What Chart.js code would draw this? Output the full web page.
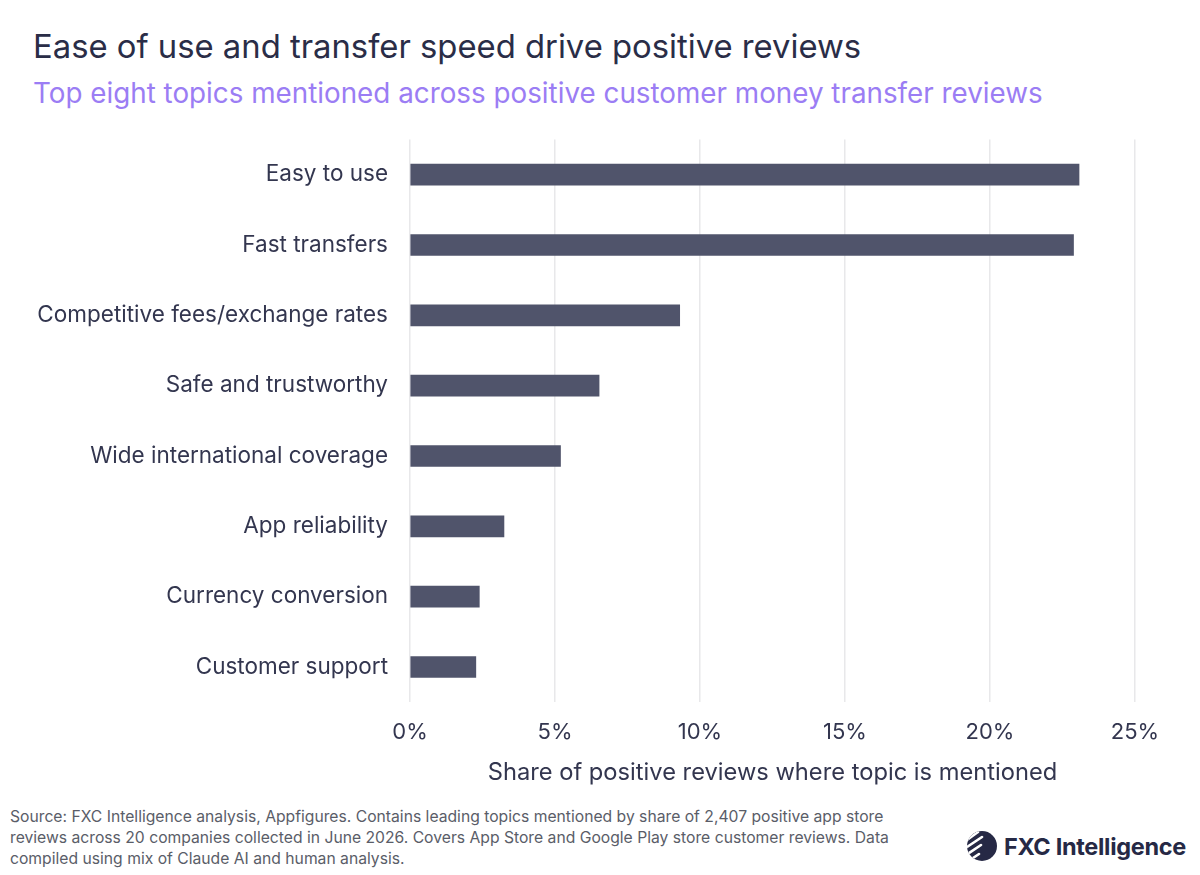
<!DOCTYPE html>
<html>
<head>
<meta charset="utf-8">
<script src="https://cdn.jsdelivr.net/npm/chart.js@4.4.1/dist/chart.umd.min.js"></script>
<style>
  html, body { margin: 0; padding: 0; background: #fff; }
  body { width: 1200px; height: 875px; position: relative; overflow: hidden; font-family: Inter, "Noto Sans", sans-serif; }
  #title { position: absolute; left: 33px; top: 26px; font-size: 32.8px; color: #2a2d47; white-space: nowrap; }
  #subtitle { position: absolute; left: 33px; top: 76px; font-size: 27.8px; color: #9b7df4; white-space: nowrap; }
  #wrap { position: absolute; left: 0; top: 112px; width: 1200px; height: 680px; }
  #footer { position: absolute; left: 10px; top: 806px; width: 890px; font-size: 15.7px; line-height: 21px; color: #5a5d68; }
  #logo { position: absolute; left: 966px; top: 830px; display: flex; align-items: center; }
  #logo span { font-size: 23.5px; font-weight: 700; color: #262945; margin-left: 6px; letter-spacing: -0.3px; }
</style>
</head>
<body>
<div id="title">Ease of use and transfer speed drive positive reviews</div>
<div id="subtitle">Top eight topics mentioned across positive customer money transfer reviews</div>
<div id="wrap"><canvas id="chart"></canvas></div>
<div id="footer">Source: FXC Intelligence analysis, Appfigures. Contains leading topics mentioned by share of 2,407 positive app store reviews across 20 companies collected in June 2026. Covers App Store and Google Play store customer reviews. Data compiled using mix of Claude AI and human analysis.</div>
<div id="logo">
  <svg width="32" height="32" viewBox="0 0 32 32">
    <defs><clipPath id="c"><circle cx="16" cy="16" r="15"/></clipPath></defs>
    <circle cx="16" cy="16" r="15" fill="#262945"/>
    <g clip-path="url(#c)" stroke="#fff" stroke-width="2.6" stroke-linecap="round">
      <line x1="-2" y1="12" x2="12" y2="2"/>
      <line x1="-2" y1="19" x2="16" y2="7"/>
      <line x1="0" y1="25" x2="15" y2="15"/>
      <line x1="4" y1="30" x2="13" y2="24"/>
    </g>
  </svg>
  <span>FXC Intelligence</span>
</div>
<script>
const topics = ['Easy to use', 'Fast transfers', 'Competitive fees/exchange rates', 'Safe and trustworthy',
  'Wide international coverage', 'App reliability', 'Currency conversion', 'Customer support'];
const shares = [23.07, 22.88, 9.30, 6.52, 5.19, 3.24, 2.39, 2.27];
const xTicks = [0, 5, 10, 15, 20, 25];

window.onload = function () {
    const ctx = document.getElementById('chart').getContext('2d');

    new Chart(ctx, {
        type: 'bar',
        data: {
            labels: topics,
            datasets: [{
                data: shares,
                backgroundColor: '#50546b',
                barThickness: 21,
            }]
        },
        options: {
            indexAxis: 'y',
            responsive: true,
            maintainAspectRatio: false,
            animation: false,
            layout: { padding: { top: 5, right: 65, bottom: 5, left: 0 } },
            plugins: { legend: { display: false }, tooltip: { enabled: false } },
            scales: {
                x: {
                    min: 0, max: 25,
                    afterBuildTicks: function (scale) { scale.ticks = xTicks.map(v => ({ value: v })); },
                    ticks: {
                        callback: v => v + '%',
                        color: '#33364f',
                        padding: 17,
                        font: { family: 'Inter', size: 22 }
                    },
                    grid: { color: '#e8e8ea', lineWidth: 1.5, drawTicks: false },
                    border: { display: false },
                    title: {
                        display: true,
                        text: 'Share of positive reviews where topic is mentioned',
                        color: '#33364f',
                        font: { family: 'Inter', size: 23.7 },
                        padding: { top: -4, bottom: 0 }
                    }
                },
                y: {
                    afterFit: function (scale) { scale.width = 410; },
                    ticks: {
                        color: '#33364f',
                        padding: 14,
                        font: { family: 'Inter', size: 22.5 }
                    },
                    grid: { display: false },
                    border: { display: false }
                }
            }
        }
    });
};
</script>
</body>
</html>
